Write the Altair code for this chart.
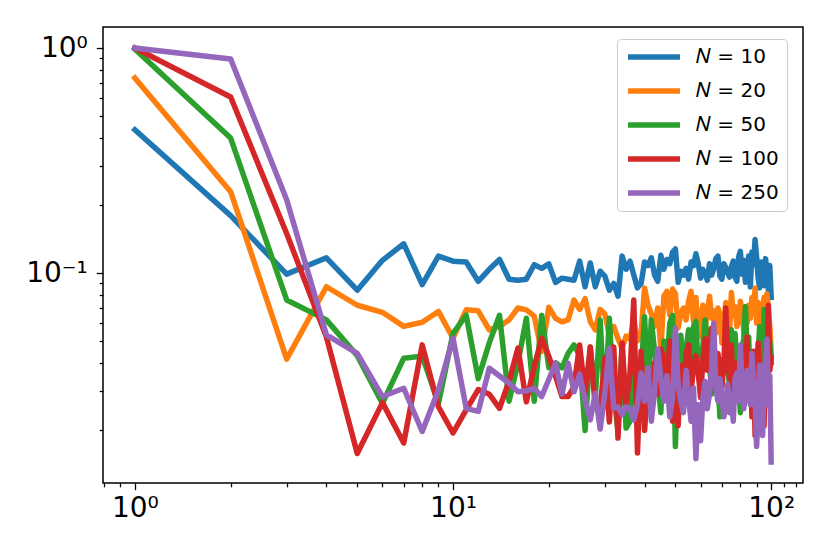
import altair as alt
import pandas as pd

x_vals = list(range(1, 101))

series_names = ["N = 10", "N = 20", "N = 50", "N = 100", "N = 250"]
series_labels = ["𝑁 = 10", "𝑁 = 20", "𝑁 = 50", "𝑁 = 100", "𝑁 = 250"]
series_colors = ["#1f77b4", "#ff7f0e", "#2ca02c", "#d62728", "#9467bd"]

n10 = [0.433, 0.18, 0.099, 0.117, 0.084, 0.114, 0.135, 0.089, 0.119, 0.113,
       0.112, 0.092, 0.104, 0.115, 0.094, 0.093, 0.094, 0.109, 0.105, 0.110,
       0.091, 0.095, 0.094, 0.093, 0.113, 0.087, 0.111, 0.087, 0.102, 0.097,
       0.084, 0.090, 0.079, 0.119, 0.104, 0.113, 0.098, 0.086, 0.090, 0.112,
       0.108, 0.117, 0.098, 0.092, 0.120, 0.104, 0.115, 0.110, 0.124, 0.128,
       0.091, 0.102, 0.098, 0.105, 0.094, 0.112, 0.108, 0.122, 0.110, 0.095,
       0.104, 0.099, 0.093, 0.110, 0.098, 0.105, 0.116, 0.119, 0.097, 0.094,
       0.110, 0.106, 0.100, 0.096, 0.107, 0.113, 0.096, 0.092, 0.118, 0.125,
       0.099, 0.114, 0.091, 0.102, 0.119, 0.087, 0.124, 0.109, 0.141, 0.118,
       0.095, 0.086, 0.112, 0.106, 0.088, 0.116, 0.103, 0.084, 0.108, 0.078]

n20 = [0.736, 0.23, 0.0415, 0.087, 0.072, 0.067, 0.058, 0.0605, 0.0676, 0.0514,
       0.0687, 0.068, 0.056, 0.058, 0.062, 0.070, 0.0687, 0.0644, 0.0448, 0.0706,
       0.063, 0.0607, 0.062, 0.076, 0.069, 0.077, 0.061, 0.056, 0.069, 0.066,
       0.053, 0.058, 0.051, 0.0465, 0.0525, 0.051, 0.062, 0.050, 0.054, 0.086,
       0.072, 0.066, 0.058, 0.070, 0.046, 0.079, 0.083, 0.065, 0.085, 0.081,
       0.057, 0.066, 0.070, 0.062, 0.075, 0.083, 0.061, 0.078, 0.052, 0.064,
       0.072, 0.058, 0.066, 0.079, 0.063, 0.068, 0.054, 0.070, 0.066, 0.049,
       0.060, 0.074, 0.062, 0.056, 0.082, 0.065, 0.071, 0.058, 0.062, 0.075,
       0.068, 0.055, 0.066, 0.060, 0.072, 0.063, 0.078, 0.067, 0.086, 0.060,
       0.074, 0.064, 0.052, 0.070, 0.078, 0.063, 0.081, 0.069, 0.058, 0.044]

n50 = [0.99, 0.398, 0.076, 0.062, 0.043, 0.0264, 0.0419, 0.0428, 0.0264, 0.054,
       0.065, 0.034, 0.049, 0.065, 0.027, 0.040, 0.063, 0.027, 0.065, 0.038,
       0.040, 0.038, 0.044, 0.048, 0.043, 0.020, 0.047, 0.028, 0.062, 0.0255,
       0.063, 0.029, 0.020, 0.048, 0.0205, 0.022, 0.042, 0.028, 0.036, 0.064,
       0.030, 0.062, 0.045, 0.033, 0.024, 0.050, 0.038, 0.060, 0.065, 0.017,
       0.041, 0.053, 0.035, 0.046, 0.056, 0.033, 0.058, 0.061, 0.036, 0.031,
       0.048, 0.062, 0.052, 0.040, 0.029, 0.045, 0.038, 0.034, 0.023, 0.041,
       0.036, 0.050, 0.044, 0.030, 0.056, 0.042, 0.054, 0.038, 0.032, 0.024,
       0.047, 0.051, 0.071, 0.045, 0.052, 0.028, 0.034, 0.040, 0.030, 0.026,
       0.044, 0.058, 0.041, 0.035, 0.069, 0.048, 0.037, 0.045, 0.050, 0.040]

n100 = [1.0, 0.606, 0.15, 0.052, 0.0158, 0.0266, 0.0176, 0.048, 0.0255, 0.0195,
        0.0247, 0.0304, 0.029, 0.0251, 0.0331, 0.0465, 0.0268, 0.0385, 0.0514, 0.0427,
        0.0349, 0.0283, 0.0283, 0.0313, 0.048, 0.029, 0.047, 0.0255, 0.0247, 0.042,
        0.0218, 0.047, 0.0185, 0.049, 0.0255, 0.036, 0.076, 0.0159, 0.045, 0.020,
        0.033, 0.024, 0.040, 0.029, 0.046, 0.042, 0.031, 0.050, 0.022, 0.034,
        0.021, 0.039, 0.026, 0.044, 0.048, 0.030, 0.038, 0.043, 0.036, 0.028,
        0.041, 0.051, 0.037, 0.045, 0.057, 0.033, 0.030, 0.044, 0.037, 0.031,
        0.039, 0.070, 0.042, 0.034, 0.048, 0.028, 0.040, 0.036, 0.030, 0.044,
        0.033, 0.047, 0.038, 0.052, 0.034, 0.041, 0.023, 0.045, 0.019, 0.030,
        0.049, 0.026, 0.036, 0.032, 0.021, 0.046, 0.033, 0.072, 0.037, 0.042]

n250 = [1.0, 0.894, 0.212, 0.0532, 0.044, 0.0283, 0.0308, 0.0198, 0.0303, 0.0514,
        0.0251, 0.0243, 0.0378, 0.0349, 0.0325, 0.0297, 0.030, 0.0308, 0.0283, 0.0337,
        0.0398, 0.029, 0.0398, 0.0297, 0.0356, 0.0273, 0.0223, 0.0293, 0.0203, 0.0293,
        0.0465, 0.0251, 0.0255, 0.0235, 0.0255, 0.0251, 0.0223, 0.026, 0.036, 0.027,
        0.038, 0.022, 0.030, 0.046, 0.034, 0.027, 0.035, 0.023, 0.028, 0.057,
        0.032, 0.027, 0.024, 0.037, 0.028, 0.022, 0.031, 0.015, 0.026, 0.018,
        0.028, 0.033, 0.025, 0.029, 0.038, 0.060, 0.031, 0.027, 0.034, 0.029,
        0.023, 0.026, 0.032, 0.024, 0.029, 0.022, 0.034, 0.036, 0.027, 0.048,
        0.031, 0.025, 0.029, 0.037, 0.030, 0.026, 0.044, 0.033, 0.028, 0.017,
        0.024, 0.039, 0.029, 0.019, 0.033, 0.041, 0.051, 0.026, 0.035, 0.0145]

x_ticks = [0.8, 0.9, 1, 2, 3, 4, 5, 6, 7, 8, 9, 10, 20, 30, 40, 50, 60, 70, 80, 90, 100, 110, 120]
y_ticks = [0.02, 0.03, 0.04, 0.05, 0.06, 0.07, 0.08, 0.09, 0.1,
           0.2, 0.3, 0.4, 0.5, 0.6, 0.7, 0.8, 0.9, 1.0]

all_series = [n10, n20, n50, n100, n250]
rows = []
for name, label, vals in zip(series_names, series_labels, all_series):
    for xv, yv in zip(x_vals, vals):
        rows.append({"x": xv, "y": yv, "series": label})
df = pd.DataFrame(rows)

x_axis = alt.Axis(
    values=x_ticks,
    tickSize={"condition": {"test": "datum.value == 1 || datum.value == 10 || datum.value == 100", "value": 6.7}, "value": 3.8},
    labelExpr="datum.value == 1 ? '10⁰' : datum.value == 10 ? '10¹' : datum.value == 100 ? '10²' : ''",
    grid=False, domain=False, title=None,
    labelFontSize=28, labelFont="DejaVu Sans", labelColor="black",
    tickColor="black", tickWidth=1.3, labelPadding=5,
    labelFlush=False, labelOverlap=False,
)
y_axis = alt.Axis(
    values=y_ticks,
    tickSize={"condition": {"test": "datum.value == 1 || datum.value == 0.1", "value": 6.7}, "value": 3.8},
    labelExpr="datum.value == 1 ? '10⁰' : datum.value == 0.1 ? '10⁻¹' : ''",
    grid=False, domain=False, title=None,
    labelFontSize=28, labelFont="DejaVu Sans", labelColor="black",
    tickColor="black", tickWidth=1.3, labelPadding=9,
    labelFlush=False, labelOverlap=False,
)

chart = alt.Chart(df).mark_line(strokeWidth=5.5, strokeCap="square", strokeJoin="round").encode(
    x=alt.X("x:Q", scale=alt.Scale(type="log", domain=[0.794, 125.9], nice=False), axis=x_axis),
    y=alt.Y("y:Q", scale=alt.Scale(type="log", domain=[0.01169, 1.2397], nice=False), axis=y_axis),
    color=alt.Color(
        "series:N",
        scale=alt.Scale(domain=series_labels, range=series_colors),
        legend=alt.Legend(
            title=None, orient="none", legendX=514, legendY=12,
            symbolType="stroke", symbolSize=2704, symbolStrokeWidth=5.5,
            clipHeight=20, rowPadding=14, labelOffset=13, padding=8,
            labelFont="DejaVu Sans", labelFontSize=20, labelColor="black",
            strokeColor="#cccccc", fillColor="rgba(255,255,255,0.8)", cornerRadius=4,
        ),
    ),
    order=alt.value(0),
).properties(
    width=700, height=456,
    autosize=alt.AutoSizeParams(type="none"),
    padding={"left": 95, "top": 19, "right": 11, "bottom": 55},
).configure_view(stroke="black", strokeWidth=1.5)

chart.save("out.html", embed_options={"renderer": "svg", "actions": False})
